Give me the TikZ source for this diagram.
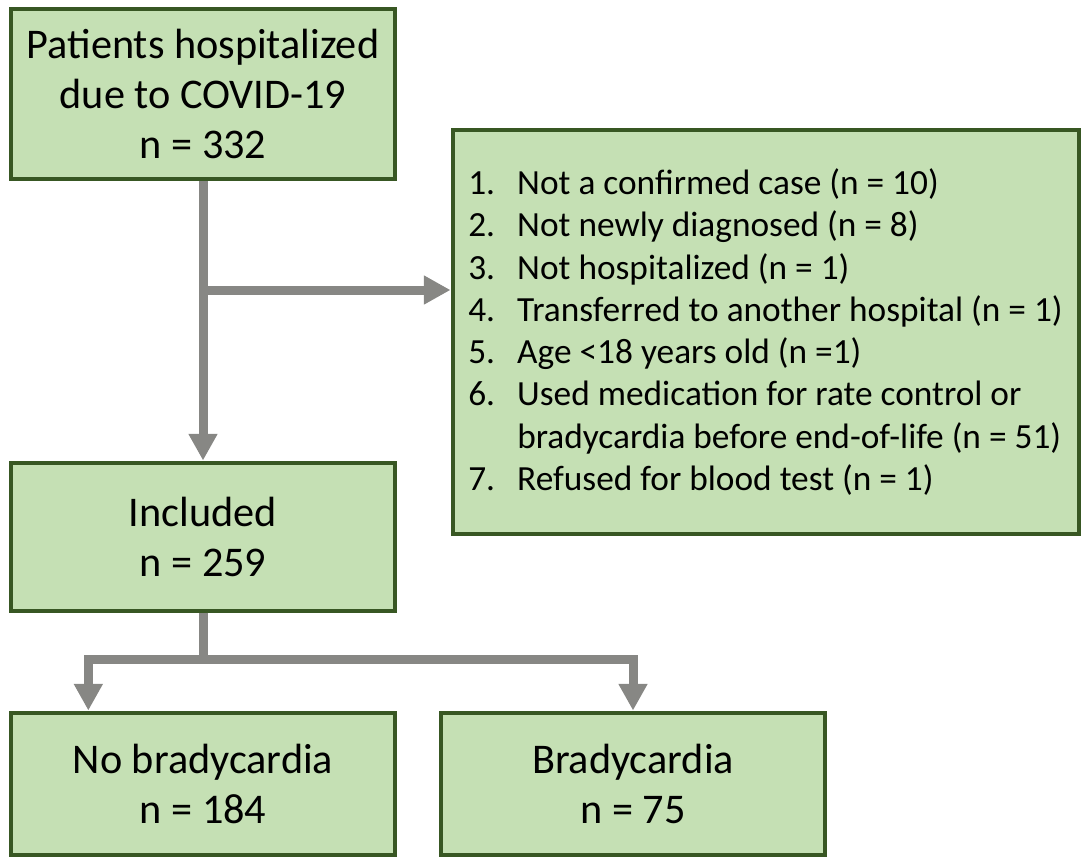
\documentclass[tikz,border=0pt]{standalone}
\usepackage{fontspec}
\setmainfont{Carlito}
\usetikzlibrary{arrows.meta,positioning}
\definecolor{boxfill}{HTML}{C5E0B4}
\definecolor{boxline}{HTML}{385723}
\definecolor{flowgray}{HTML}{878784}
\newcommand{\itm}[1]{\makebox[36.75pt][l]{#1}}

\begin{document}
\begin{tikzpicture}[x=0.75pt,y=-0.75pt,
  box/.style={draw=boxline,fill=boxfill,line width=3pt,minimum width=288.5pt,
    align=center,font=\fontsize{31.7}{37.5}\selectfont},
  flow/.style={draw=flowgray,line width=6.75pt},
  flowarr/.style={flow,-{Triangle[length=20pt,width=20.5pt]}}]
  \useasboundingbox (0,0) rectangle (1081,858);
  % boxes
  \node[box,minimum height=128.2pt] (pat) at (203,94) {Patients hospitalized\\due to COVID-19\\n = 332};
  \node[box,minimum height=111pt] (inc) at (203,536.5) {Included\\n = 259};
  \node[box,minimum height=107.2pt] (nob) at (203,784) {No bradycardia\\n = 184};
  \node[box,minimum height=107.2pt] (bra) at (633,784) {Bradycardia\\n = 75};
  \node[box,minimum width=469.5pt,minimum height=303.5pt,align=left,
    font=\fontsize{26.5}{31.7}\selectfont] (exc) at (765.5,332) {%
    \itm{1.}Not a confirmed case (n = 10)\\
    \itm{2.}Not newly diagnosed (n = 8)\\
    \itm{3.}Not hospitalized (n = 1)\\
    \itm{4.}Transferred to another hospital (n = 1)\\
    \itm{5.}Age <18 years old (n =1)\\
    \itm{6.}Used medication for rate control or\\
    \itm{}bradycardia before end-of-life (n = 51)\\
    \itm{7.}Refused for blood test (n = 1)};
  % connectors
  \coordinate (brk) at (203,290);
  \coordinate (fork) at (203,659);
  \draw[flowarr] (pat) -- (inc);
  \draw[flowarr] (brk) -- (brk -| exc.west);
  \draw[flow] (inc) -- (fork);
  \draw[flowarr] (fork) -| ([xshift=-86pt]nob.north);
  \draw[flowarr] (fork) -| (bra);
\end{tikzpicture}
\end{document}
